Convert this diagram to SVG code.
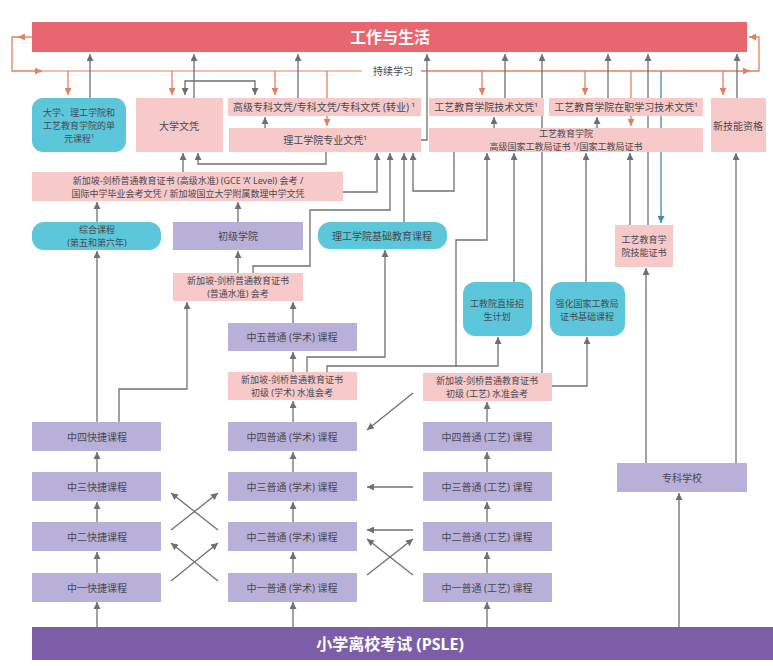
<svg xmlns="http://www.w3.org/2000/svg" width="773" height="666" viewBox="0 0 773 666">
<style>
text{font-family:"Noto Sans","Noto Sans CJK SC",sans-serif;font-size:10px;fill:#474a52;text-anchor:middle;dominant-baseline:central}
.m{font-size:9px}
.title{font-size:16px;font-weight:bold;fill:#fff}
.pink{fill:#f7c9c9}
.cyan{fill:#5cc6da}
.lav{fill:#b9b0da}
.g{fill:none;stroke:#707070;stroke-width:1.3;marker-end:url(#ag)}
.o{fill:none;stroke:#e3805f;stroke-width:1.3;marker-end:url(#ao)}
.on{fill:none;stroke:#e3805f;stroke-width:1.1}
.b{fill:none;stroke:#3b8fae;stroke-width:1.3;marker-end:url(#ab)}
</style>
<defs>
<marker id="ag" viewBox="0 0 10 10" refX="10" refY="5" markerWidth="7" markerHeight="7" markerUnits="userSpaceOnUse" orient="auto"><path d="M0,0 L10,5 L0,10 z" fill="#707070"/></marker>
<marker id="ao" viewBox="0 0 10 10" refX="10" refY="5" markerWidth="7" markerHeight="7" markerUnits="userSpaceOnUse" orient="auto"><path d="M0,0 L10,5 L0,10 z" fill="#e3805f"/></marker>
<marker id="ab" viewBox="0 0 10 10" refX="10" refY="5" markerWidth="7" markerHeight="7" markerUnits="userSpaceOnUse" orient="auto"><path d="M0,0 L10,5 L0,10 z" fill="#3b8fae"/></marker>
</defs>
<rect width="773" height="666" fill="#fff"/>
<g id="connectors">
<path class="o" d="M32,37 H18"/>
<path class="o" d="M19,37 H12 V71 H42"/>
<path class="on" d="M41,71 H362"/>
<path class="o" d="M421,71 H750"/>
<path class="o" d="M749,71 H759 V37 H749"/>
<path class="o" d="M68,71 V95"/>
<path class="o" d="M172,71 V95"/>
<path class="o" d="M275,71 V95"/>
<path class="o" d="M327,71 V126"/>
<path class="o" d="M482,71 V95"/>
<path class="o" d="M585,71 V95"/>
<path class="o" d="M631,71 V126"/>
<path class="o" d="M723,71 V95"/>
<path class="b" d="M661,71 V223"/>
<path class="g" d="M90,98 V54"/>
<path class="g" d="M194,98 V54"/>
<path class="g" d="M298,98 V54"/>
<path class="g" d="M421,140 H427 V54"/>
<path class="g" d="M505,98 V54"/>
<path class="g" d="M542,373 V54"/>
<path class="g" d="M608,98 V54"/>
<path class="g" d="M648,225 V54"/>
<path class="g" d="M737,98 V54"/>
<path class="g" d="M220,81 H185 V95"/>
<path class="g" d="M220,81 H255 V95"/>
<path class="g" d="M265,128 V117"/>
<path class="g" d="M494,128 V117"/>
<path class="g" d="M597,128 V117"/>
<path class="g" d="M183,172 V153"/>
<path class="g" d="M326,152 V164 H198 V153"/>
<path class="g" d="M343,192 H377 V153"/>
<path class="g" d="M253,273 V266 H310 V210 H390 V153"/>
<path class="g" d="M404,222 V153"/>
<path class="g" d="M454,152 V191 H413 V153"/>
<path class="g" d="M327,372 V366 H498 V337"/>
<path class="g" d="M456,366 V240 H487 V153"/>
<path class="g" d="M514,282 V153"/>
<path class="g" d="M586,282 V153"/>
<path class="g" d="M630,225 V153"/>
<path class="g" d="M646,463 V268"/>
<path class="g" d="M736,463 V153"/>
<path class="g" d="M679,627 V493"/>
<path class="g" d="M552,386 H587 V337"/>
<path class="g" d="M307,372 V357 H385 V250"/>
<path class="g" d="M119,422 V389 H187 V302"/>
<path class="g" d="M238,273 V251"/>
<path class="g" d="M238,222 V202"/>
<path class="g" d="M97,222 V202"/>
<path class="g" d="M97,422 V251"/>
<path class="g" d="M293,323 V302"/>
<path class="g" d="M293,372 V352"/>
<path class="g" d="M293,422 V401"/>
<path class="g" d="M487,422 V402"/>
<path class="g" d="M97,472 V452"/>
<path class="g" d="M97,522 V502"/>
<path class="g" d="M97,573 V552"/>
<path class="g" d="M97,627 V602"/>
<path class="g" d="M293,472 V452"/>
<path class="g" d="M293,522 V502"/>
<path class="g" d="M293,573 V552"/>
<path class="g" d="M293,627 V602"/>
<path class="g" d="M487,472 V452"/>
<path class="g" d="M487,522 V502"/>
<path class="g" d="M487,573 V552"/>
<path class="g" d="M487,627 V602"/>
<path class="g" d="M171,530 L218,493"/>
<path class="g" d="M218,530 L171,493"/>
<path class="g" d="M171,581 L218,543"/>
<path class="g" d="M218,581 L171,543"/>
<path class="g" d="M413,393 L367,430"/>
<path class="g" d="M413,487 H367"/>
<path class="g" d="M413,530 H367"/>
<path class="g" d="M367,575 L413,539"/>
<path class="g" d="M413,575 L367,539"/>
</g>
<g id="work-life"><rect x="32" y="22" width="715" height="30" fill="#e8666f"/><text class="title" x="390" y="37">工作与生活</text></g>
<g id="lifelong"><text x="393" y="71">持续学习</text></g>
<g id="unit-courses"><rect class="cyan" x="32" y="98" width="94" height="54" rx="11"/><text class="m" x="79" y="112">大学、理工学院和</text><text class="m" x="79" y="125">工艺教育学院的单</text><text class="m" x="79" y="138">元课程¹</text></g>
<g id="degree"><rect class="pink" x="136" y="98" width="87" height="54"/><text x="179" y="126">大学文凭</text></g>
<g id="adv-diploma"><rect class="pink" x="228" y="98" width="193" height="18"/><text x="324" y="107">高级专科文凭/专科文凭/专科文凭 (转业) ¹</text></g>
<g id="poly-diploma"><rect class="pink" x="229" y="128" width="192" height="24"/><text x="325" y="140">理工学院专业文凭¹</text></g>
<g id="ite-tech-dip"><rect class="pink" x="429" y="98" width="115" height="18"/><text x="486" y="107">工艺教育学院技术文凭¹</text></g>
<g id="ite-work-dip"><rect class="pink" x="549" y="98" width="154" height="18"/><text x="626" y="107">工艺教育学院在职学习技术文凭¹</text></g>
<g id="nitec"><rect class="pink" x="429" y="128" width="274" height="24"/><text class="m" x="566" y="133.5">工艺教育学院</text><text class="m" x="566" y="146.5">高级国家工教局证书 ¹/国家工教局证书</text></g>
<g id="new-skills"><rect class="pink" x="711" y="98" width="55" height="54"/><text x="738" y="126">新技能资格</text></g>
<g id="a-level"><rect class="pink" x="32" y="172" width="311" height="29"/><text class="m" x="188" y="180">新加坡-剑桥普通教育证书 (高级水准) (GCE ‘A’ Level) 会考 /</text><text class="m" x="188" y="193">国际中学毕业会考文凭 / 新加坡国立大学附属数理中学文凭</text></g>
<g id="ip"><rect class="cyan" x="32" y="222" width="129" height="28" rx="12"/><text class="m" x="97" y="229.5">综合课程</text><text class="m" x="97" y="242.5">(第五和第六年)</text></g>
<g id="jc"><rect class="lav" x="173" y="222" width="130" height="28"/><text x="238" y="236">初级学院</text></g>
<g id="pfp"><rect class="cyan" x="318" y="222" width="129" height="27" rx="12"/><text x="382" y="236">理工学院基础教育课程</text></g>
<g id="o-level"><rect class="pink" x="173" y="273" width="130" height="28"/><text class="m" x="238" y="280.5">新加坡-剑桥普通教育证书</text><text class="m" x="238" y="293.5">(普通水准) 会考</text></g>
<g id="ite-skills"><rect class="pink" x="615" y="225" width="58" height="42"/><text class="m" x="644" y="239.5">工艺教育学</text><text class="m" x="644" y="252.5">院技能证书</text></g>
<g id="ite-dsa"><rect class="cyan" x="463" y="282" width="69" height="54" rx="12"/><text class="m" x="497" y="303">工教院直接招</text><text class="m" x="497" y="316">生计划</text></g>
<g id="enhanced-nitec"><rect class="cyan" x="550" y="282" width="75" height="54" rx="12"/><text class="m" x="587" y="303">强化国家工教局</text><text class="m" x="587" y="316">证书基础课程</text></g>
<g id="sec5-na"><rect class="lav" x="228" y="323" width="129" height="28"/><text x="292" y="337">中五普通 (学术) 课程</text></g>
<g id="n-a-exam"><rect class="pink" x="228" y="372" width="129" height="28"/><text class="m" x="292" y="379.5">新加坡-剑桥普通教育证书</text><text class="m" x="292" y="392.5">初级 (学术) 水准会考</text></g>
<g id="n-t-exam"><rect class="pink" x="423" y="373" width="129" height="28"/><text class="m" x="487" y="380.5">新加坡-剑桥普通教育证书</text><text class="m" x="487" y="393.5">初级 (工艺) 水准会考</text></g>
<g id="exp4"><rect class="lav" x="32" y="422" width="129" height="29"/><text x="97" y="437">中四快捷课程</text></g>
<g id="exp3"><rect class="lav" x="32" y="472" width="129" height="29"/><text x="97" y="487">中三快捷课程</text></g>
<g id="exp2"><rect class="lav" x="32" y="522" width="129" height="29"/><text x="97" y="537">中二快捷课程</text></g>
<g id="exp1"><rect class="lav" x="32" y="573" width="129" height="29"/><text x="97" y="588">中一快捷课程</text></g>
<g id="na4"><rect class="lav" x="228" y="422" width="129" height="29"/><text x="292" y="437">中四普通 (学术) 课程</text></g>
<g id="na3"><rect class="lav" x="228" y="472" width="129" height="29"/><text x="292" y="487">中三普通 (学术) 课程</text></g>
<g id="na2"><rect class="lav" x="228" y="522" width="129" height="29"/><text x="292" y="537">中二普通 (学术) 课程</text></g>
<g id="na1"><rect class="lav" x="228" y="573" width="129" height="29"/><text x="292" y="588">中一普通 (学术) 课程</text></g>
<g id="nt4"><rect class="lav" x="423" y="422" width="129" height="29"/><text x="487" y="437">中四普通 (工艺) 课程</text></g>
<g id="nt3"><rect class="lav" x="423" y="472" width="129" height="29"/><text x="487" y="487">中三普通 (工艺) 课程</text></g>
<g id="nt2"><rect class="lav" x="423" y="522" width="129" height="29"/><text x="487" y="537">中二普通 (工艺) 课程</text></g>
<g id="nt1"><rect class="lav" x="423" y="573" width="129" height="29"/><text x="487" y="588">中一普通 (工艺) 课程</text></g>
<g id="specialised"><rect class="lav" x="617" y="463" width="130" height="29"/><text x="682" y="478">专科学校</text></g>
<g id="psle"><rect x="32" y="627" width="741" height="33" fill="#7b5ea7"/><text class="title" x="390" y="644">小学离校考试 (PSLE)</text></g>
</svg>
